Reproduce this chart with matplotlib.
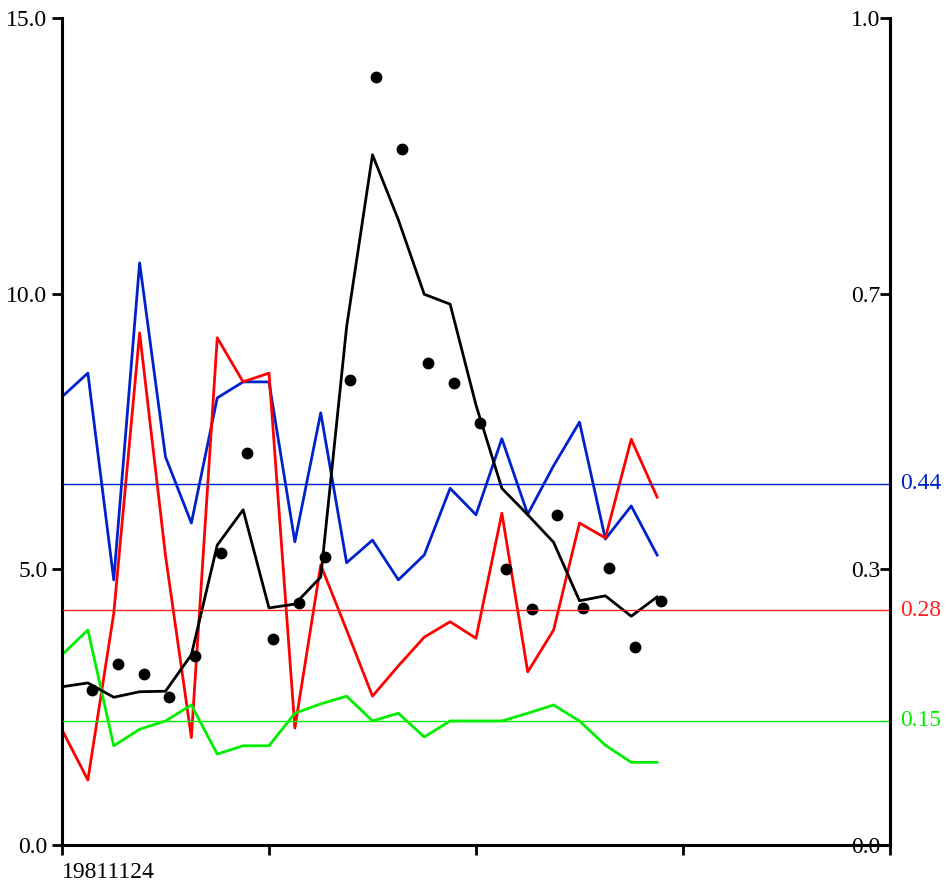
import matplotlib
matplotlib.use("Agg")
import matplotlib.pyplot as plt
import numpy as np

plt.rcParams['font.family'] = ['Liberation Serif', 'DejaVu Serif']

# -------- Data -------- #
black_line = [2.87, 2.94, 2.68, 2.78, 2.79, 3.45, 5.44, 6.08, 4.30, 4.37, 4.86, 9.40,
              12.52, 11.34, 9.99, 9.81, 7.98, 6.47, 5.99, 5.49, 4.43, 4.52, 4.15, 4.50]
blue_line = [8.13, 8.56, 4.81, 10.56, 7.04, 5.84, 8.11, 8.40, 8.40, 5.50, 7.84, 5.12,
             5.53, 4.81, 5.26, 6.47, 5.99, 7.37, 6.00, 6.88, 7.67, 5.55, 6.15, 5.26]
red_line = [2.09, 1.18, 4.20, 9.29, 5.25, 1.95, 9.20, 8.40, 8.56, 2.12, 5.08, 3.90,
            2.70, 3.25, 3.77, 4.05, 3.75, 6.02, 3.14, 3.90, 5.84, 5.57, 7.36, 6.31]
green_line = [3.45, 3.90, 1.80, 2.10, 2.25, 2.54, 1.65, 1.80, 1.80, 2.39, 2.56, 2.70,
              2.25, 2.39, 1.96, 2.25, 2.25, 2.25, 2.39, 2.54, 2.25, 1.81, 1.50, 1.50]
dots = [2.81, 3.28, 3.10, 2.69, 3.43, 5.29, 7.11, 3.74, 4.39, 5.23, 8.43, 13.93,
        12.62, 8.74, 8.38, 7.65, 5.00, 4.28, 5.99, 4.30, 5.02, 3.59, 4.43]

thresholds = [0.437, 0.284, 0.150]
threshold_colors = ["#0022cc", "#ff2020", "#00ee00"]

left_ticks = [0, 5, 10, 15]
right_ticks = [0, 1 / 3, 2 / 3, 1]
x_ticks = [0, 8, 16, 24, 32]
x_labels = ["19811124", "", "", "", ""]

# -------- Plot -------- #
fig = plt.figure(figsize=(9.48, 8.88), dpi=100)
ax = fig.add_axes([0.0654, 0.0484, 0.8734, 0.9313])

x = np.arange(len(black_line))
ax.plot(x, blue_line, color="#0022cc", lw=2)
ax.plot(x, red_line, color="#ff0000", lw=2)
ax.plot(x, green_line, color="#00ee00", lw=2)
ax.plot(x, black_line, color="black", lw=2)
xd = np.arange(1, len(dots) + 1) + 0.15
ax.plot(xd, dots, "o", color="black", ms=7.5, ls="none")

ax.set_xlim(0, 32)
ax.set_ylim(0, 15)
ax.set_yticks(left_ticks)
ax.set_yticklabels([f"{v:.1f}" for v in left_ticks])
ax.set_xticks(x_ticks)
ax.set_xticklabels(x_labels)
ax.get_xticklabels()[0].set_ha("left")
ax.tick_params(axis="both", direction="out", length=7, width=2, labelsize=17, colors="black")
ax.tick_params(axis="x", pad=5)
ax.spines["top"].set_visible(False)
for s in ["left", "bottom", "right"]:
    ax.spines[s].set_linewidth(2.2)

ax2 = ax.twinx()
ax2.set_ylim(0, 1)
ax2.set_yticks(right_ticks)
ax2.set_yticklabels([f"{v:.1f}" for v in right_ticks])
ax2.tick_params(axis="y", direction="in", length=7, width=2, labelsize=17, pad=-7)
for lab in ax2.get_yticklabels():
    lab.set_ha("right")
ax2.spines["top"].set_visible(False)
ax2.spines["right"].set_linewidth(2.2)

for val, col in zip(thresholds, threshold_colors):
    ax2.axhline(val, color=col, lw=1)
    ax2.text(1.012, val, f"{val:.2f}", color=col, fontsize=17, va="center", ha="left",
             transform=ax2.get_yaxis_transform())

fig.savefig("out.png", dpi=100)
